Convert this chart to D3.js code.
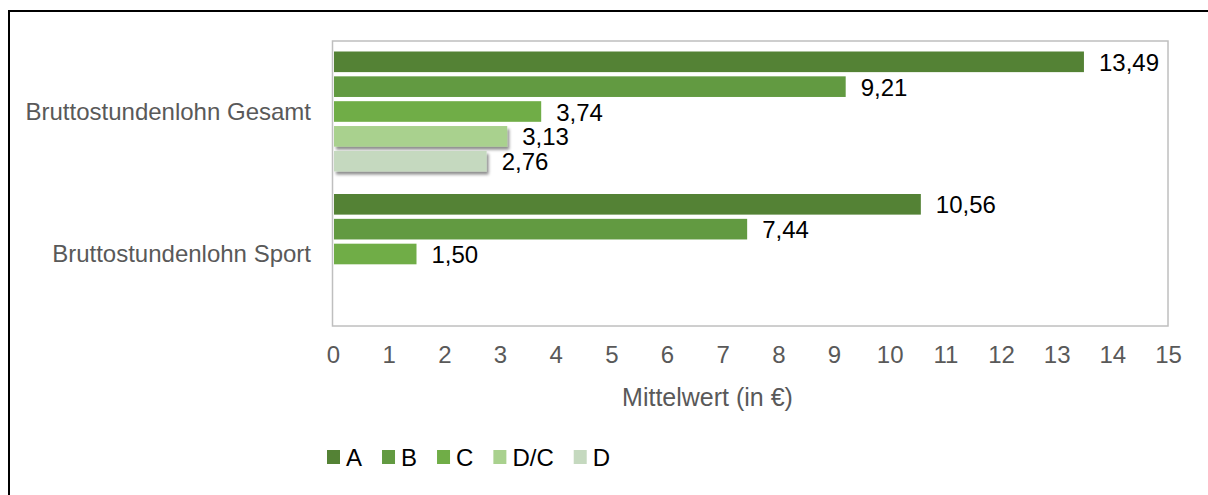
<!DOCTYPE html>
<html>
<head>
<meta charset="utf-8">
<script src="https://cdn.jsdelivr.net/npm/d3@7"></script>
<style>
  body { margin: 0; background: #fff; }
  svg { font-family: "Liberation Sans", Arial, sans-serif; }
</style>
</head>
<body>
<svg id="chart" width="1208" height="495"></svg>
<script>
// data
const categories = ["Bruttostundenlohn Gesamt", "Bruttostundenlohn Sport"];
const series = ["A", "B", "C", "D/C", "D"];
const valuesGesamt = [13.49, 9.21, 3.74, 3.13, 2.76];
const valuesSport = [10.56, 7.44, 1.50, null, null];
const xTicks = [0, 1, 2, 3, 4, 5, 6, 7, 8, 9, 10, 11, 12, 13, 14, 15];
const colors = ["#548235", "#629a41", "#70ad47", "#a9d18e", "#c5d9bf"];
const shadowed = ["D/C", "D"];
const xTitle = "Mittelwert (in €)";

const rows = [valuesGesamt, valuesSport];

const svg = d3.select("#chart");
const margin = { top: 41, right: 40, bottom: 169, left: 333 };
const width = 1208, height = 495;
const iwidth = width - margin.left - margin.right;
const iheight = height - margin.top - margin.bottom;

const de = d3.formatLocale({ decimal: ",", thousands: ".", grouping: [3], currency: ["", " €"] });
const fmt = de.format(".2f");

// drop shadow for the light bars
const defs = svg.append("defs");
defs.append("filter").attr("id", "shadow")
  .attr("x", "-5%").attr("y", "-30%").attr("width", "115%").attr("height", "190%")
  .append("feDropShadow")
  .attr("dx", 2).attr("dy", 3).attr("stdDeviation", 1.6)
  .attr("flood-color", "#000").attr("flood-opacity", 0.45);

// outer frame
svg.append("rect")
  .attr("x", 9).attr("y", 11)
  .attr("width", 1240).attr("height", 520)
  .attr("fill", "none").attr("stroke", "#000").attr("stroke-width", 2);

const g = svg.append("g").attr("transform", "translate(" + margin.left + "," + margin.top + ")");

const x = d3.scaleLinear().domain([0, 15]).range([0, iwidth]);

const y0 = d3.scaleBand().domain(categories).range([0, iheight]).padding(0);

const y1 = d3.scaleBand().domain(series)
  .range([10.5, y0.bandwidth() - 12]).paddingInner(0.17).paddingOuter(0);

// plot area border
g.append("rect")
  .attr("x", -0.5).attr("y", 0)
  .attr("width", iwidth + 0.5).attr("height", iheight)
  .attr("fill", "none").attr("stroke", "#bfbfbf").attr("stroke-width", 1.5);

const groups = g.selectAll(".cat")
  .data(categories).enter()
  .append("g").attr("class", "cat")
  .attr("transform", d => "translate(0," + y0(d) + ")");

groups.each(function (cat, ci) {
  const data = series.map((s, i) => ({ s: s, v: rows[ci][i], c: colors[i] }))
    .filter(d => d.v != null);
  const sel = d3.select(this);

  sel.selectAll("rect")
    .data(data).enter()
    .append("rect")
    .attr("x", 1)
    .attr("y", d => y1(d.s))
    .attr("width", d => x(d.v) - 1)
    .attr("height", y1.bandwidth())
    .attr("fill", d => d.c)
    .attr("filter", d => shadowed.includes(d.s) ? "url(#shadow)" : null);

  sel.selectAll("text.val")
    .data(data).enter()
    .append("text").attr("class", "val")
    .attr("x", d => x(d.v) + 15)
    .attr("y", d => y1(d.s) + y1.bandwidth() / 2)
    .attr("dy", "0.38em")
    .attr("fill", "#000")
    .attr("font-size", 24)
    .text(d => fmt(d.v));
});

// category axis
const yAxis = g.append("g")
  .call(d3.axisLeft(y0).tickSize(0).tickPadding(22));
yAxis.select(".domain").remove();
yAxis.selectAll("text")
  .attr("fill", "#595959")
  .attr("font-size", 24)
  .attr("font-family", "Liberation Sans, Arial, sans-serif");

// value axis
const xAxis = g.append("g")
  .attr("transform", "translate(0," + iheight + ")")
  .call(d3.axisBottom(x).tickValues(xTicks).tickSize(0).tickPadding(20).tickFormat(d3.format("d")));
xAxis.select(".domain").remove();
xAxis.selectAll("text")
  .attr("fill", "#595959")
  .attr("font-size", 24)
  .attr("font-family", "Liberation Sans, Arial, sans-serif");

g.append("text")
  .attr("x", iwidth / 2 - 43)
  .attr("y", iheight + 80)
  .attr("text-anchor", "middle")
  .attr("fill", "#595959")
  .attr("font-size", 25)
  .text(xTitle);

// legend
const legend = svg.append("g").attr("transform", "translate(327,450)");
let lx = 0;
series.forEach((s, i) => {
  const item = legend.append("g").attr("transform", "translate(" + lx + ",0)");
  item.append("rect").attr("width", 13).attr("height", 14).attr("fill", colors[i]);
  const t = item.append("text")
    .attr("x", 19).attr("y", 15.5)
    .attr("font-size", 24).attr("fill", "#000")
    .text(s);
  lx += 19 + t.node().getComputedTextLength() + 20;
});
</script>
</body>
</html>
